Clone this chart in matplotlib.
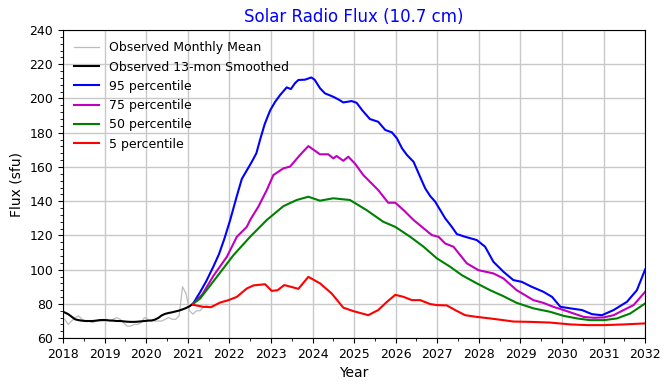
import numpy as np
import matplotlib
matplotlib.use("Agg")
import matplotlib.pyplot as plt
from matplotlib.ticker import MultipleLocator

# ---- data ----
monthly_mean = [71, 68, 70, 72, 73, 71, 70, 70, 69, 70, 70, 70,
                71, 70, 71, 72, 71, 69, 67, 67, 68, 68, 69, 72,
                71, 70, 70, 70, 70, 71, 72, 71, 71, 73, 90, 86,
                76, 74, 76, 76, 78, 79]
monthly_years = 2018 + (np.arange(len(monthly_mean)) + 0.5) / 12

smoothed = [75, 74, 72.5, 71, 70.5, 70.2, 70, 70, 70, 70.2, 70.5, 70.6,
            70.5, 70.3, 70.2, 70, 70, 69.8, 69.6, 69.5, 69.5, 69.6, 69.8, 70,
            70.2, 70.3, 70.8, 71.8, 73.3, 74.2, 74.7, 75.1, 75.6, 76.1, 76.8, 77.6,
            78.6, 80]
smoothed_years = 2018 + np.arange(len(smoothed)) / 12 + 0.042

p95_years = [2021.125, 2021.30, 2021.45, 2021.62, 2021.75, 2021.88, 2022.02, 2022.18, 2022.30,
             2022.42, 2022.54, 2022.65, 2022.74, 2022.85, 2022.98, 2023.10, 2023.22, 2023.38,
             2023.48, 2023.58, 2023.66, 2023.82, 2023.97, 2024.05, 2024.18, 2024.30, 2024.50,
             2024.62, 2024.74, 2024.94, 2025.06, 2025.20, 2025.38, 2025.58, 2025.75, 2025.91,
             2026.03, 2026.15, 2026.27, 2026.43, 2026.55, 2026.71, 2026.83, 2026.95, 2027.19,
             2027.35, 2027.47, 2027.67, 2027.95, 2028.15, 2028.35, 2028.59, 2028.83, 2029.03,
             2029.27, 2029.55, 2029.76, 2029.96, 2030.20, 2030.48, 2030.72, 2030.96, 2031.24,
             2031.56, 2031.80, 2032.00]
p95 = [80, 87, 93.5, 102, 109, 118, 129, 143, 153,
       158, 163, 168, 176, 185, 193, 198, 202, 206.5,
       205.5, 209, 210.8, 211, 212.3, 211, 206, 203, 201,
       199.5, 197.7, 198.5, 197.5, 193, 188, 186.4, 181.6, 180.2,
       176.7, 171, 167, 163, 156.3, 147.5, 143, 139.7, 130,
       125, 120.8, 119.2, 117.3, 113.4, 104.6, 98.8, 93.9, 92.9,
       90, 87.1, 84.1, 78.3, 77.4, 76.4, 74, 73.4, 76.4,
       81.2, 88, 100.2]

p75_years = [2021.125, 2021.35, 2021.62, 2021.94, 2022.18, 2022.42, 2022.50, 2022.70, 2022.90,
             2023.06, 2023.30, 2023.46, 2023.70, 2023.90, 2024.18, 2024.38, 2024.50, 2024.58,
             2024.74, 2024.86, 2025.02, 2025.22, 2025.38, 2025.58, 2025.82, 2025.99, 2026.19,
             2026.43, 2026.63, 2026.87, 2027.03, 2027.19, 2027.39, 2027.71, 2027.99, 2028.35,
             2028.59, 2028.91, 2029.31, 2029.55, 2029.79, 2030.04, 2030.28, 2030.52, 2030.76,
             2031.00, 2031.24, 2031.48, 2031.72, 2032.00]
p75 = [80, 85.5, 96.5, 107.5, 119.2, 125, 129, 136.9, 146.5,
       155.3, 159.2, 160.2, 167, 172.2, 167.4, 167.4, 165, 166.4,
       163.6, 166, 162, 155.3, 151.4, 146.5, 139.1, 139.1, 134.8,
       129, 125, 120.2, 119.2, 115.3, 113.4, 103.7, 99.7, 97.8,
       94.9, 88, 82.2, 80.6, 78.3, 76.4, 74.4, 72.4, 71.9,
       72.1, 73.4, 76.4, 79.3, 87.1]

p50_years = [2021.125, 2021.30, 2021.70, 2022.10, 2022.50, 2022.90, 2023.30, 2023.62, 2023.90,
             2024.18, 2024.50, 2024.90, 2025.30, 2025.70, 2025.99, 2026.35, 2026.67, 2026.99,
             2027.31, 2027.59, 2027.95, 2028.27, 2028.59, 2028.91, 2029.31, 2029.71, 2030.04,
             2030.36, 2030.68, 2031.00, 2031.32, 2031.64, 2032.00]
p50 = [80, 83.2, 95.8, 108.5, 119.2, 129, 137.1, 140.7, 142.6,
       140.3, 141.7, 140.7, 134.8, 128, 125, 119.2, 113.4, 106.6,
       101.7, 96.8, 92, 88, 84.5, 80.6, 77.4, 75.4, 73,
       71.5, 70.5, 70.5, 71.5, 74.4, 80.3]

p5_years = [2021.125, 2021.37, 2021.56, 2021.78, 2021.98, 2022.18, 2022.42, 2022.58, 2022.74,
            2022.86, 2023.02, 2023.16, 2023.32, 2023.48, 2023.66, 2023.90, 2024.18, 2024.46,
            2024.74, 2024.98, 2025.34, 2025.58, 2025.79, 2025.99, 2026.19, 2026.39, 2026.59,
            2026.83, 2026.99, 2027.23, 2027.43, 2027.67, 2027.95, 2028.27, 2028.59, 2028.83,
            2029.23, 2029.71, 2030.20, 2030.60, 2031.00, 2031.48, 2032.00]
p5 = [79.5, 78.3, 78.1, 80.8, 82.2, 84.1, 89, 90.8, 91.2,
      91.5, 87.6, 88, 91, 90, 88.8, 95.8, 92, 86.1,
      77.8, 75.8, 73.4, 76.4, 81.2, 85.3, 84.1, 82.2, 82.2,
      79.9, 79.3, 79.1, 76.4, 73.4, 72.4, 71.5, 70.5, 69.7,
      69.5, 69.1, 68, 67.6, 67.6, 68, 68.6]

# ---- plot ----
fig = plt.figure(figsize=(6.7, 3.9), dpi=100)
ax = fig.add_axes([0.094, 0.133, 0.869, 0.790])

ax.plot(monthly_years, monthly_mean, color="#bcbcbc", lw=0.9, label="Observed Monthly Mean")
ax.plot(smoothed_years, smoothed, color="black", lw=1.5, label="Observed 13-mon Smoothed")
ax.plot(p95_years, p95, color="b", lw=1.5, label="95 percentile")
ax.plot(p75_years, p75, color="m", lw=1.5, label="75 percentile")
ax.plot(p50_years, p50, color="g", lw=1.5, label="50 percentile")
ax.plot(p5_years, p5, color="r", lw=1.5, label="5 percentile")

ax.set_xlim(2018, 2032)
ax.set_ylim(60, 240)
ax.set_xticks(np.arange(2018, 2033, 1))
ax.set_yticks(np.arange(60, 241, 20))
ax.xaxis.set_minor_locator(MultipleLocator(0.5))
ax.yaxis.set_minor_locator(MultipleLocator(4))
ax.tick_params(labelsize=9)
ax.grid(True, which="major", color="#c8c8c8", lw=1.0)
ax.set_axisbelow(True)

ax.set_xlabel("Year", fontsize=10)
ax.set_ylabel("Flux (sfu)", fontsize=10)
ax.set_title("Solar Radio Flux (10.7 cm)", color="blue", fontsize=12)
ax.legend(loc="upper left", frameon=False, fontsize=9)

fig.savefig("out.png", dpi=100)
